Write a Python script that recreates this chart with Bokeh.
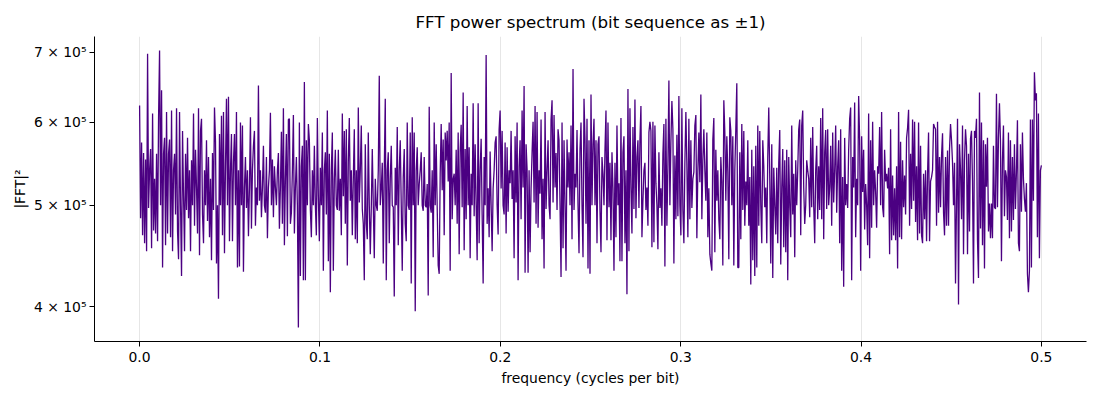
import numpy as np
from bokeh.plotting import figure
from bokeh.models import Range1d, FixedTicker, CustomJSTickFormatter, NumeralTickFormatter
from bokeh.embed import file_html
from bokeh.resources import INLINE

# |FFT|^2 values, in thousands (six consecutive stretches of the spectrum)
seg1 = [623, 486, 574, 468, 561, 460, 553, 452, 698, 497,
        540, 566, 455, 612, 473, 530, 470, 560, 462, 607,
        703, 500, 644, 436, 560, 580, 458, 614, 470, 560,
        578, 466, 616, 452, 540, 560, 490, 619, 472, 444,
        614, 500, 428, 589, 510, 452, 560, 495, 580, 486,
        540, 452, 552, 500, 612, 478, 565, 520, 470, 619,
        448, 589, 605, 490, 460, 540, 500, 577, 483, 556,
        466, 530, 443, 561, 495, 620, 575, 440, 500, 407,
        585, 500, 609, 468, 614, 450, 545, 632, 500, 635,
        462, 540, 585, 462, 550, 585, 500, 614, 436, 540,
        437, 600, 500, 596, 432, 520, 556, 497, 540, 467,
        520, 607, 475, 540, 570, 589, 478, 520, 500, 651,
        505, 540, 487, 520, 570, 500, 492, 556, 465, 520,
        540, 613, 500, 553, 487, 545, 520, 500, 540, 561,
        475, 520, 588, 480, 619, 458, 530, 585, 467, 604]

seg2 = [605, 480, 492, 540, 610, 470, 520, 556, 500, 382,
        600, 428, 545, 570, 424, 656, 424, 577, 500, 598,
        577, 495, 466, 540, 500, 570, 500, 468, 606, 510,
        462, 543, 500, 587, 433, 540, 562, 490, 616, 442,
        560, 413, 540, 587, 433, 530, 565, 500, 495, 565,
        494, 530, 468, 612, 510, 589, 480, 591, 438, 551,
        606, 505, 540, 468, 530, 591, 464, 540, 460, 620,
        503, 540, 596, 496, 480, 424, 572, 480, 464, 587,
        500, 449, 498, 566, 500, 445, 530, 500, 494, 540,
        665, 500, 519, 549, 440, 540, 632, 424, 540, 562,
        460, 530, 570, 500, 498, 409, 543, 500, 594, 458,
        540, 577, 500, 433, 532, 566, 480, 462, 600, 500,
        495, 587, 421, 607, 500, 587, 396, 540, 568, 500,
        524, 540, 562, 500, 494, 556, 500, 498, 524, 410,
        621, 500, 492, 540, 446, 600, 500, 572, 498, 438]

seg3 = [430, 536, 598, 517, 578, 468, 587, 552, 589, 527,
        600, 433, 669, 485, 530, 536, 500, 565, 480, 587,
        449, 565, 597, 498, 641, 453, 566, 485, 622, 500,
        568, 445, 536, 500, 626, 488, 572, 500, 443, 626,
        460, 540, 579, 490, 421, 556, 500, 696, 480, 519,
        466, 563, 500, 452, 519, 540, 574, 582, 500, 469,
        591, 616, 519, 589, 500, 490, 574, 470, 568, 493,
        540, 525, 589, 507, 540, 445, 582, 503, 600, 424,
        545, 577, 485, 616, 520, 650, 431, 572, 541, 431,
        540, 451, 519, 562, 601, 503, 622, 480, 614, 476,
        540, 513, 604, 464, 530, 435, 614, 496, 540, 577,
        500, 485, 604, 630, 503, 610, 520, 561, 495, 591,
        577, 500, 427, 600, 455, 577, 500, 433, 578, 520,
        562, 500, 596, 464, 675, 495, 536, 520, 590, 500,
        450, 566, 600, 500, 446, 632, 578, 480, 605, 435]

seg4 = [577, 430, 638, 500, 572, 605, 500, 577, 460, 572,
        582, 495, 451, 556, 536, 500, 565, 616, 463, 600,
        498, 549, 463, 562, 519, 433, 549, 466, 596, 500,
        525, 442, 606, 442, 562, 582, 460, 540, 411, 646,
        452, 619, 520, 470, 594, 496, 631, 486, 556, 577,
        497, 577, 622, 466, 505, 540, 549, 495, 520, 478,
        587, 601, 589, 456, 601, 461, 596, 525, 500, 454,
        562, 497, 519, 478, 560, 598, 437, 605, 478, 545,
        658, 500, 575, 629, 591, 440, 558, 485, 584, 488,
        636, 500, 468, 619, 495, 460, 549, 614, 547, 466,
        605, 485, 577, 497, 530, 538, 596, 610, 465, 540,
        587, 526, 638, 485, 553, 591, 540, 505, 587, 466,
        519, 449, 440, 433, 578, 606, 451, 565, 505, 540,
        485, 464, 556, 526, 438, 630, 587, 505, 582, 538,
        444, 607, 589, 500, 582, 438, 540, 591, 654, 436]

seg5 = [436, 562, 464, 598, 495, 589, 478, 527, 500, 577,
        478, 532, 420, 565, 443, 545, 428, 570, 436, 596,
        478, 589, 500, 460, 577, 545, 498, 520, 460, 556,
        620, 530, 440, 572, 426, 543, 500, 469, 543, 460,
        549, 590, 439, 520, 566, 456, 552, 451, 565, 424,
        556, 500, 466, 596, 490, 536, 446, 552, 500, 540,
        591, 604, 468, 596, 616, 520, 480, 500, 552, 540,
        530, 487, 580, 498, 594, 500, 460, 540, 570, 485,
        545, 495, 606, 485, 619, 464, 562, 590, 496, 591,
        500, 520, 570, 478, 587, 503, 540, 596, 492, 545,
        577, 460, 591, 433, 532, 418, 580, 500, 524, 497,
        565, 605, 620, 424, 556, 520, 627, 466, 530, 500,
        636, 577, 433, 582, 515, 565, 474, 524, 500, 458,
        612, 445, 577, 476, 601, 500, 540, 515, 476, 545,
        536, 594, 500, 614, 498, 487, 565, 527, 536, 519]

seg6 = [543, 449, 591, 463, 534, 468, 519, 463, 545, 435,
        614, 466, 575, 464, 552, 498, 534, 490, 580, 593,
        617, 478, 560, 496, 604, 505, 601, 482, 545, 463,
        600, 470, 570, 468, 460, 536, 485, 540, 462, 536,
        587, 462, 527, 532, 540, 598, 594, 591, 478, 601,
        492, 556, 498, 558, 586, 492, 468, 556, 478, 564,
        478, 566, 598, 577, 549, 500, 549, 421, 503, 605,
        402, 572, 540, 485, 596, 449, 552, 591, 570, 449,
        560, 472, 579, 589, 527, 421, 589, 580, 605, 463,
        426, 641, 475, 600, 458, 577, 435, 572, 521, 580,
        472, 502, 465, 502, 465, 570, 498, 496, 639, 498,
        580, 626, 577, 442, 553, 596, 488, 540, 532, 484,
        587, 465, 577, 472, 556, 484, 572, 496, 538, 603,
        460, 452, 572, 493, 587, 530, 507, 493, 525, 430,
        413, 433, 604, 436, 604, 505, 670, 630, 640, 466,
        612, 445, 540, 546]

power = [v * 1000.0 for v in seg1 + seg2 + seg3 + seg4 + seg5 + seg6]
freq = np.linspace(0.0, 0.5, len(power))

x_ticks = [0.0, 0.1, 0.2, 0.3, 0.4, 0.5]
y_ticks = [400000, 500000, 600000, 700000]

FONT = "DejaVu Sans"

p = figure(width=1092, height=392,
           x_range=Range1d(-0.025, 0.525),
           y_range=Range1d(370500, 725000),
           y_axis_type="log",
           output_backend="svg", toolbar_location=None,
           min_border_left=94, min_border_right=6,
           min_border_top=36, min_border_bottom=51)

p.title.text = "FFT power spectrum (bit sequence as \u00b11)"
p.title.align = "center"
p.title.text_font = FONT
p.title.text_font_size = "16.7px"
p.title.text_font_style = "normal"
p.title.text_color = "#000000"

p.line(freq, power, line_color="#4B0082", line_width=1.3)

p.outline_line_color = None
p.ygrid.grid_line_color = None
p.xgrid.grid_line_color = "#e6e6e6"
p.xgrid.grid_line_width = 1
p.xgrid.ticker = FixedTicker(ticks=x_ticks)

p.xaxis.ticker = FixedTicker(ticks=x_ticks, minor_ticks=[])
p.xaxis.formatter = NumeralTickFormatter(format="0.0")
p.yaxis.ticker = FixedTicker(ticks=y_ticks, minor_ticks=[])
p.yaxis.formatter = CustomJSTickFormatter(code="return Math.round(tick/1e5) + ' \u00d7 10\u2075';")

p.xaxis.axis_label = "frequency (cycles per bit)"
p.yaxis.axis_label = "|FFT|\u00b2"

for ax in (p.xaxis, p.yaxis):
    ax.axis_line_color = "#000000"
    ax.axis_line_width = 1
    ax.major_tick_line_color = "#000000"
    ax.major_tick_in = 0
    ax.major_tick_out = 5
    ax.minor_tick_line_color = None
    ax.major_label_text_font = FONT
    ax.major_label_text_font_size = "13.9px"
    ax.major_label_text_color = "#000000"
    ax.axis_label_text_font = FONT
    ax.axis_label_text_font_size = "13.9px"
    ax.axis_label_text_font_style = "normal"
    ax.axis_label_text_color = "#000000"
    ax.major_label_standoff = 5

p.yaxis.major_label_standoff = 3
p.yaxis.axis_label_standoff = 3
p.xaxis.axis_label_standoff = 5

open("out.html", "w").write(file_html(p, INLINE))
